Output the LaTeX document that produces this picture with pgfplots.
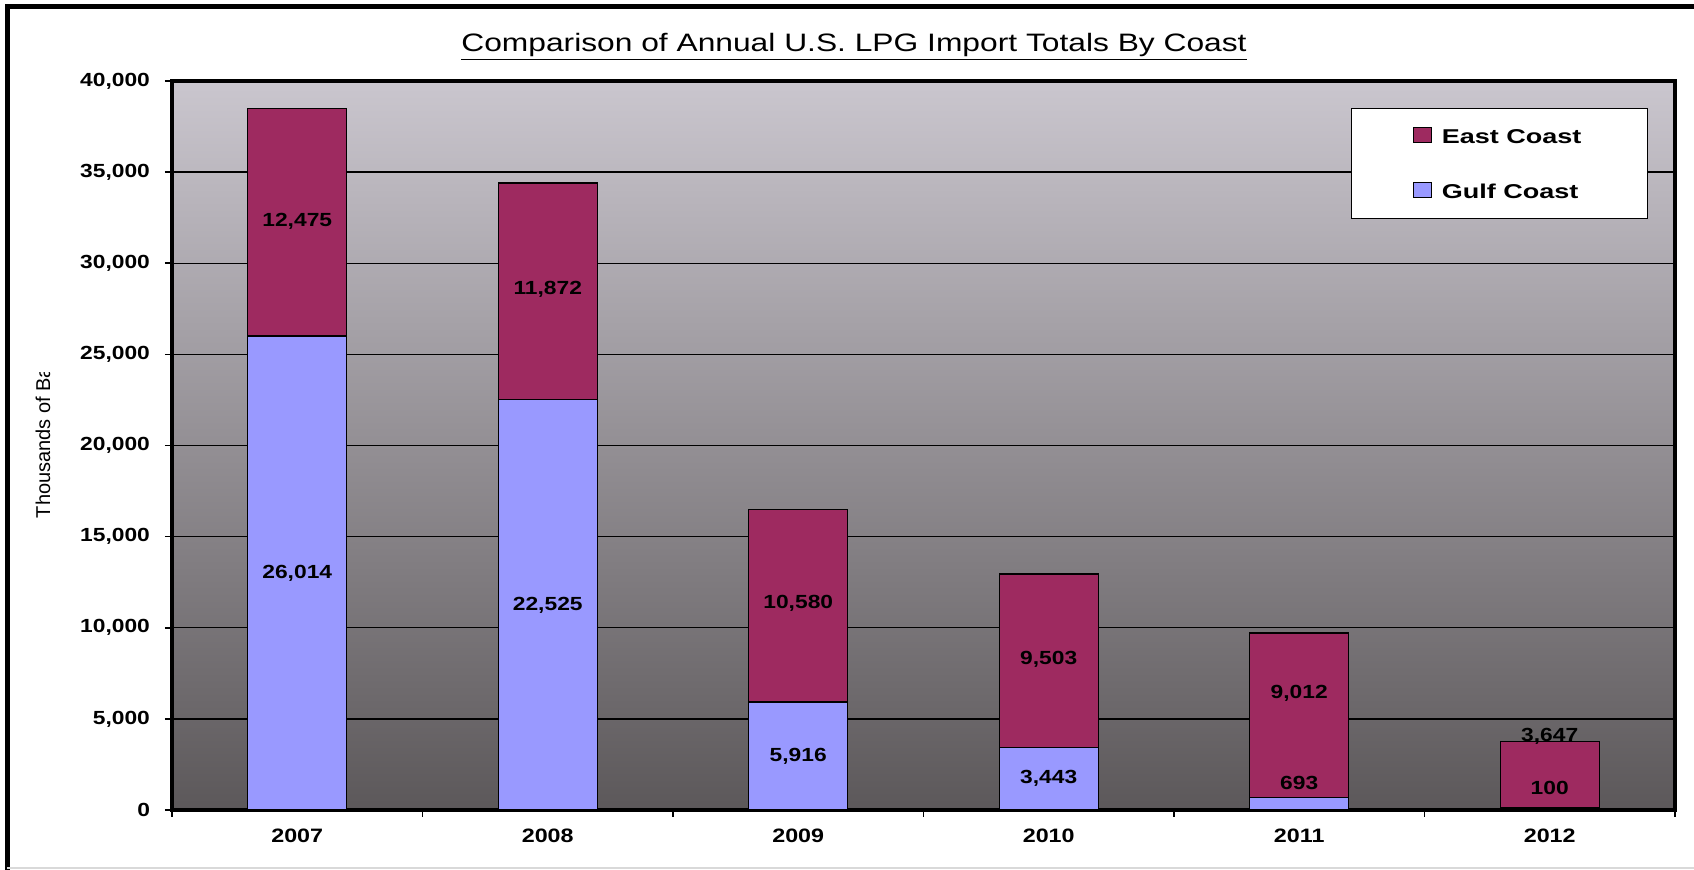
\documentclass[border=0pt]{standalone}
\usepackage{pgfplots}
\pgfplotsset{compat=1.18}
\usepackage{pgfplotstable}
\usepackage{fontspec}
\usepackage{trimclip}
\setmainfont{Liberation Sans}
\newfontfamily\wide[FakeStretch=1.2]{Liberation Sans}
\newfontfamily\legfont[FakeStretch=1.35]{Liberation Sans}
\newfontfamily\titlefont[FakeStretch=1.26]{Liberation Sans}
\definecolor{east}{RGB}{158,42,96}
\definecolor{gulf}{RGB}{153,153,255}
\definecolor{bgtop}{RGB}{202,198,206}
\definecolor{bgbot}{RGB}{92,88,90}

\pgfplotstableread{
x gulf east
0 26014 12475
1 22525 11872
2 5916 10580
3 3443 9503
4 693 9012
5 100 3647
}\datatable

\pgfplotstableread{
x y label
0 32291 12,475
0 12966 26,014
1 28560 11,872
1 11248 22,525
2 11363 10,580
2 2947 5,916
3 8285 9,503
3 1762 3,443
4 6387 9,012
4 1466 693
5 4016 3,647
5 1229 100
}\labeltable

\begin{document}
\begin{tikzpicture}
\useasboundingbox (0,0) rectangle (847pt,435pt);
\fill[white] (0,0) rectangle (847pt,435pt);
\draw[line width=2.5pt] (3.5pt,0) -- (3.5pt,431.5pt) -- (847pt,431.5pt);
\draw[black!15, line width=1pt] (3.5pt,1pt) -- (847pt,1pt);
\node[font=\titlefont\fontsize{12.6}{14}\selectfont] at (427pt,411.5pt)
  {\underline{Comparison of Annual U.S. LPG Import Totals By Coast}};
\begin{axis}[
  at={(86pt,30pt)}, anchor=south west,
  scale only axis, width=751.5pt, height=364.5pt,
  ybar stacked, bar width=49.5pt,
  xmin=-0.5, xmax=5.5, ymin=0, ymax=40000,
  scaled y ticks=false,
  axis background/.style={top color=bgtop, bottom color=bgbot},
  axis line style={line width=2pt},
  ytick={0,5000,...,40000},
  yticklabels={0,{5,000},{10,000},{15,000},{20,000},{25,000},{30,000},{35,000},{40,000}},
  xtick={-0.5,0.5,...,5.5}, xticklabels={},
  extra x ticks={0,1,2,3,4,5},
  extra x tick labels={2007,2008,2009,2010,2011,2012},
  extra x tick style={major tick length=0pt, grid=none},
  tick align=outside, xtick pos=bottom, ytick pos=left,
  major tick length=3.5pt,
  tick style={black, line width=0.8pt},
  ymajorgrids, grid style={black, line width=0.7pt},
  ticklabel style={font=\wide\bfseries\fontsize{9.5}{11}\selectfont},
  xticklabel style={font=\wide\bfseries\fontsize{9.7}{11}\selectfont, yshift=-6pt},
  yticklabel style={xshift=-4pt},
  ylabel={\clipbox{0pt 0pt 3pt 0pt}{Thousands of Ba}},
  ylabel style={at={(axis description cs:-0.0858,0.5)}, anchor=center, font=\fontsize{10}{12}\selectfont},
  reverse legend,
  legend cell align=left,
  legend style={at={(1,1)}, anchor=north east, xshift=-13.5pt, yshift=-13.5pt,
    draw=black, line width=0.5pt, fill=white, inner xsep=31pt, inner ysep=8pt,
    row sep=16pt, font=\legfont\bfseries\fontsize{10}{12}\selectfont,
    nodes={text height=7.5pt, text depth=0pt},
    /tikz/every odd column/.append style={column sep=3pt}},
]
\addplot[fill=gulf, draw=black, line width=0.7pt,
  legend image code/.code={\draw[fill=gulf, draw=black, line width=0.4pt] (0pt,-3pt) rectangle (9pt,4.2pt);}]
  table[x=x,y=gulf]{\datatable};
\addlegendentry{Gulf Coast}
\addplot[fill=east, draw=black, line width=0.7pt,
  legend image code/.code={\draw[fill=east, draw=black, line width=0.4pt] (0pt,-3pt) rectangle (9pt,4.2pt);}]
  table[x=x,y=east]{\datatable};
\addlegendentry{East Coast}
\end{axis}
\begin{axis}[
  at={(86pt,30pt)}, anchor=south west,
  scale only axis, width=751.5pt, height=364.5pt,
  xmin=-0.5, xmax=5.5, ymin=0, ymax=40000,
  hide axis, clip=false,
]
\addplot[draw=none, mark=none, nodes near coords, point meta=explicit symbolic,
  every node near coord/.style={anchor=center, text=black, font=\wide\bfseries\fontsize{9.5}{11}\selectfont}]
  table[x=x,y=y,meta=label]{\labeltable};
\end{axis}
\end{tikzpicture}
\end{document}
